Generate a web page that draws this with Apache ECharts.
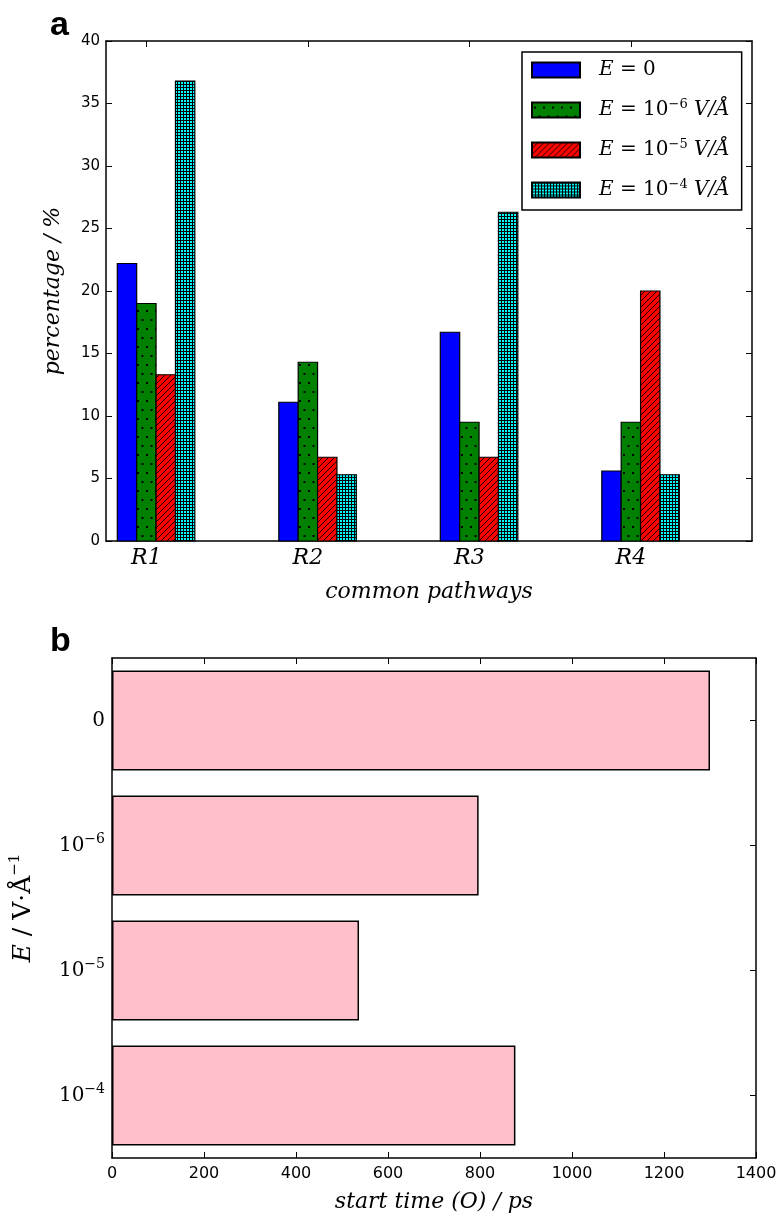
<!DOCTYPE html>
<html><head><meta charset="utf-8">
<script src="https://cdn.jsdelivr.net/npm/echarts@6/dist/echarts.min.js"></script>
<style>html,body{margin:0;padding:0;background:#fff}#c{width:780px;height:1216px}</style>
</head><body><div id="c"></div>
<script>
// ---------- data ----------
const pathways = ['R1', 'R2', 'R3', 'R4'];
const seriesNames = ['E0', 'E6', 'E5', 'E4'];
const pctE0 = [22.2, 11.1, 16.7, 5.6];
const pctE6 = [19.0, 14.3, 9.5, 9.5];
const pctE5 = [13.3, 6.7, 6.7, 20.0];
const pctE4 = [36.8, 5.3, 26.3, 5.3];
const fieldLevels = ['0', '10^-6', '10^-5', '10^-4'];
const startTimes = [1300, 797, 537, 877];

// ---------- styling helpers ----------
const SERIF = '"DejaVu Serif",serif';
const SANS = '"DejaVu Sans",sans-serif';
function tile(w, h, draw) {
  const c = document.createElement('canvas');
  c.width = w; c.height = h;
  draw(c.getContext('2d'), w, h);
  return { image: c, repeat: 'repeat' };
}
const patBlue = '#0000ff';
const patGreen = tile(9, 18, (g, w, h) => {
  g.fillStyle = '#008000'; g.fillRect(0, 0, w, h);
  g.fillStyle = '#000';
  g.fillRect(2, 4, 2, 2); g.fillRect(6.5, 13, 2, 2);
});
const patRed = tile(6, 6, (g, w, h) => {
  g.fillStyle = '#ff0000'; g.fillRect(0, 0, w, h);
  g.strokeStyle = '#000'; g.lineWidth = 0.9;
  g.beginPath();
  g.moveTo(-1, 7); g.lineTo(7, -1);
  g.moveTo(-1, 1); g.lineTo(1, -1);
  g.moveTo(5, 7); g.lineTo(7, 5);
  g.stroke();
});
const patCyan = tile(3, 3, (g, w, h) => {
  g.fillStyle = '#00ffff'; g.fillRect(0, 0, w, h);
  g.fillStyle = '#000';
  g.fillRect(0, 0, 1, 3); g.fillRect(0, 0, 3, 1);
});
const fills = [patBlue, patGreen, patRed, patCyan];
const values = [pctE0, pctE6, pctE5, pctE4];
const barW = 0.12;
const offsets = [-0.12, 0, 0.12, 0.24];

const legendText = {
  E0: '{i|E}{n| = 0}',
  E6: '{i|E}{n| = 10}{sup|−6}{n| }{i|V/Å}',
  E5: '{i|E}{n| = 10}{sup|−5}{n| }{i|V/Å}',
  E4: '{i|E}{n| = 10}{sup|−4}{n| }{i|V/Å}'
};

function barSeries(k) {
  return {
    type: 'custom', name: seriesNames[k], xAxisIndex: 0, yAxisIndex: 0,
    itemStyle: { color: fills[k], borderColor: '#000', borderWidth: 1.2 },
    encode: { x: 0, y: 1 },
    data: values[k].map((v, i) => [i, v]),
    renderItem: function (params, api) {
      const xi = api.value(0), v = api.value(1);
      const p0 = api.coord([xi + offsets[k] - barW / 2, v]);
      const p1 = api.coord([xi + offsets[k] + barW / 2, 0]);
      return {
        type: 'rect',
        shape: { x: p0[0], y: p0[1], width: p1[0] - p0[0], height: p1[1] - p0[1] },
        style: { fill: fills[k], stroke: '#000', lineWidth: 1.2 }
      };
    }
  };
}

const axisLine = { show: true, onZero: false, lineStyle: { color: '#000', width: 1.5 } };
const tickIn = { show: true, inside: true, length: 6, lineStyle: { color: '#000', width: 1 } };

function levelLabel(s) {
  if (s.indexOf('^') < 0) return '{n|' + s + '}';
  const parts = s.split('^');
  return '{n|' + parts[0] + '}{sup|' + parts[1].replace('-', '−') + '}';
}

const option = {
  backgroundColor: '#fff',
  animation: false,
  title: [
    { text: 'a', left: 45, top: 4, textStyle: { fontFamily: '"Liberation Sans",Arial,sans-serif', fontWeight: 'bold', fontSize: 34, color: '#000' } },
    { text: 'b', left: 45, top: 620, textStyle: { fontFamily: '"Liberation Sans",Arial,sans-serif', fontWeight: 'bold', fontSize: 34, color: '#000' } }
  ],
  grid: [
    { left: 106, top: 41, width: 646, height: 500 },
    { left: 110, top: 658, width: 646, height: 500 }
  ],
  legend: {
    orient: 'vertical', left: 522, top: 52,
    data: seriesNames,
    icon: 'rect', itemWidth: 48, itemHeight: 15, itemGap: 18,
    padding: [8, 12, 10, 9],
    backgroundColor: '#fff', borderColor: '#000', borderWidth: 1.5,
    formatter: (n) => legendText[n],
    textStyle: {
      padding: [0, 0, 0, 14],
      rich: {
        i: { fontFamily: SERIF, fontStyle: 'italic', fontSize: 20, color: '#000', lineHeight: 24 },
        n: { fontFamily: SERIF, fontSize: 20, color: '#000', lineHeight: 24 },
        sup: { fontFamily: SERIF, fontSize: 13, color: '#000', lineHeight: 24, verticalAlign: 'top' }
      }
    }
  },
  xAxis: [
    {
      type: 'value', gridIndex: 0, position: 'bottom', min: -0.25, max: 3.75,
      axisLine: axisLine, splitLine: { show: false },
      axisTick: Object.assign({}, tickIn, { customValues: [0, 1, 2, 3] }),
      axisLabel: {
        customValues: [0, 1, 2, 3], formatter: (v) => pathways[Math.round(v)],
        fontFamily: SERIF, fontStyle: 'italic', fontSize: 22, color: '#000', margin: 6
      },
      name: 'common pathways', nameLocation: 'middle', nameGap: 40,
      nameTextStyle: { fontFamily: SERIF, fontStyle: 'italic', fontSize: 22, color: '#000' }
    },
    {
      type: 'value', gridIndex: 0, position: 'top', min: -0.25, max: 3.75,
      axisLine: axisLine, splitLine: { show: false },
      axisTick: Object.assign({}, tickIn, { customValues: [0, 1, 2, 3] }),
      axisLabel: { show: false }
    },
    {
      type: 'value', gridIndex: 1, position: 'bottom', min: 0, max: 1400, interval: 200,
      axisLine: axisLine, splitLine: { show: false }, axisTick: tickIn,
      axisLabel: { fontFamily: SANS, fontSize: 16, color: '#000', margin: 8, formatter: (v) => String(v) },
      name: 'start time (O) / ps', nameLocation: 'middle', nameGap: 33,
      nameTextStyle: { fontFamily: SERIF, fontStyle: 'italic', fontSize: 22, color: '#000' }
    },
    {
      type: 'value', gridIndex: 1, position: 'top', min: 0, max: 1400, interval: 200,
      axisLine: axisLine, splitLine: { show: false }, axisTick: tickIn,
      axisLabel: { show: false }
    }
  ],
  yAxis: [
    {
      type: 'value', gridIndex: 0, position: 'left', min: 0, max: 40, interval: 5,
      axisLine: axisLine, splitLine: { show: false }, axisTick: tickIn,
      axisLabel: { fontFamily: SANS, fontSize: 15, color: '#000', margin: 6 },
      name: 'percentage / %', nameLocation: 'middle', nameGap: 42, nameRotate: 90,
      nameTextStyle: { fontFamily: SERIF, fontStyle: 'italic', fontSize: 22, color: '#000' }
    },
    {
      type: 'value', gridIndex: 0, position: 'right', min: 0, max: 40, interval: 5,
      axisLine: axisLine, splitLine: { show: false }, axisTick: tickIn,
      axisLabel: { show: false }
    },
    {
      type: 'category', gridIndex: 1, position: 'left', inverse: true, data: fieldLevels,
      axisLine: axisLine, splitLine: { show: false },
      axisTick: Object.assign({}, tickIn, { alignWithLabel: true }),
      axisLabel: {
        formatter: levelLabel, margin: 7,
        rich: {
          n: { fontFamily: SERIF, fontSize: 20, color: '#000', lineHeight: 26 },
          sup: { fontFamily: SERIF, fontSize: 14, color: '#000', lineHeight: 26, verticalAlign: 'top' }
        }
      },
      name: '{i|E}{n| / V·Å}{sup|−1}', nameLocation: 'middle', nameGap: 74, nameRotate: 90,
      nameTextStyle: {
        rich: {
          i: { fontFamily: SERIF, fontStyle: 'italic', fontSize: 25, color: '#000', lineHeight: 30 },
          n: { fontFamily: SERIF, fontSize: 25, color: '#000', lineHeight: 30 },
          sup: { fontFamily: SERIF, fontSize: 15, color: '#000', lineHeight: 30, verticalAlign: 'top' }
        }
      }
    },
    {
      type: 'category', gridIndex: 1, position: 'right', inverse: true, data: fieldLevels,
      axisLine: axisLine, splitLine: { show: false },
      axisTick: Object.assign({}, tickIn, { alignWithLabel: true }),
      axisLabel: { show: false }
    }
  ],
  series: [
    barSeries(0), barSeries(1), barSeries(2), barSeries(3),
    {
      type: 'bar', name: 'start time', xAxisIndex: 2, yAxisIndex: 2,
      data: startTimes, barCategoryGap: '20%',
      itemStyle: { color: '#ffc0cb', borderColor: '#000', borderWidth: 1.5 }
    }
  ]
};
const chart = echarts.init(document.getElementById('c'), null, { renderer: 'canvas' });
chart.setOption(option);
</script>
</body></html>
